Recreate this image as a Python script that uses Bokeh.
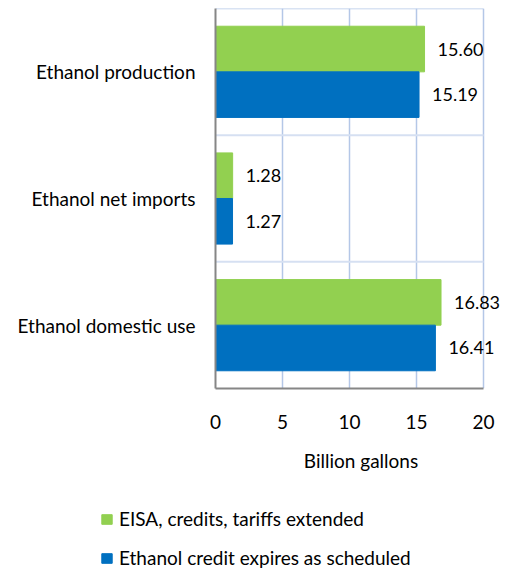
from bokeh.plotting import figure
from bokeh.models import (ColumnDataSource, FactorRange, Range1d, FixedTicker,
                          Legend, LegendItem, LabelSet)
from bokeh.core.properties import value
from bokeh.transform import dodge
from bokeh.embed import file_html
from bokeh.resources import INLINE

categories = ["Ethanol domestic use", "Ethanol net imports", "Ethanol production"]
extended = [16.83, 1.28, 15.60]
scheduled = [16.41, 1.27, 15.19]
series_names = ["EISA, credits, tariffs extended", "Ethanol credit expires as scheduled"]
x_ticks = [0, 5, 10, 15, 20]
x_title = "Billion gallons"

FONT = "Lato"
FS = "19px"
GREEN = "#92d050"
BLUE = "#0070c0"
VGRID = "#b4c7e7"
HGRID = "#d6e0f2"

src = ColumnDataSource(dict(
    cat=categories,
    ext=extended,
    sch=scheduled,
    ext_lbl=["%.2f" % v for v in extended],
    sch_lbl=["%.2f" % v for v in scheduled],
))

W = 506
LEFT = 215
# frame extends a little past 20 so that end labels are not clipped
x_max = x_ticks[-1] * (W - LEFT) / 268

p = figure(width=W, height=480, output_backend="svg", toolbar_location=None,
           y_range=FactorRange(factors=categories, range_padding=0),
           x_range=Range1d(0, x_max),
           min_border_left=LEFT, min_border_right=0, min_border_top=8,
           min_border_bottom=92)
p.outline_line_color = None

# category separators and top border, bounded to the axis extent
n = len(categories)
bounds_y = list(range(1, n + 1))
p.segment(x0=[x_ticks[0]] * n, x1=[x_ticks[-1]] * n, y0=bounds_y, y1=bounds_y,
          line_color=[HGRID] * (n - 1) + [VGRID], line_width=[2] * (n - 1) + [1.5])

r_ext = p.hbar(y=dodge("cat", 0.18, range=p.y_range), right="ext", left=0, height=0.36,
               source=src, fill_color=GREEN, line_color=GREEN)
r_sch = p.hbar(y=dodge("cat", -0.18, range=p.y_range), right="sch", left=0, height=0.36,
               source=src, fill_color=BLUE, line_color=BLUE)

for col, lab, off in (("ext", "ext_lbl", 0.18), ("sch", "sch_lbl", -0.18)):
    ls = LabelSet(x=col, y=dodge("cat", off, range=p.y_range), text=lab, source=src,
                  x_offset=13, text_baseline="middle", text_align="left",
                  text_font=value(FONT), text_font_size="18px", text_color="#000000")
    p.add_layout(ls)

# grid
p.xgrid.ticker = FixedTicker(ticks=x_ticks)
p.xgrid.grid_line_color = VGRID
p.xgrid.grid_line_width = 1.5
p.ygrid.visible = False

# axes
p.xaxis.ticker = FixedTicker(ticks=x_ticks)
p.xaxis.bounds = (x_ticks[0], x_ticks[-1])
p.xaxis.major_tick_line_color = None
p.xaxis.minor_tick_line_color = None
p.xaxis.major_label_standoff = 20
p.xaxis.major_label_text_font = FONT
p.xaxis.major_label_text_font_size = FS
p.xaxis.major_label_text_color = "#000000"
p.xaxis.axis_line_color = "#868686"
p.xaxis.axis_line_width = 2
p.xaxis.axis_label = x_title
p.xaxis.axis_label_standoff = 17
p.xaxis.axis_label_text_font = FONT
p.xaxis.axis_label_text_font_size = FS
p.xaxis.axis_label_text_font_style = "normal"
p.xaxis.axis_label_text_color = "#000000"

p.yaxis.major_tick_line_color = None
p.yaxis.minor_tick_line_color = None
p.yaxis.major_label_standoff = 14
p.yaxis.major_label_text_font = FONT
p.yaxis.major_label_text_font_size = FS
p.yaxis.major_label_text_color = "#000000"
p.yaxis.axis_line_color = "#868686"
p.yaxis.axis_line_width = 2

# legend panel (separate strip below the chart)
lg = figure(width=W, height=88, output_backend="svg", toolbar_location=None,
            x_range=Range1d(0, 1), y_range=Range1d(0, 1),
            x_axis_location=None, y_axis_location=None,
            min_border=0)
lg.outline_line_color = None
lg.xgrid.visible = False
lg.ygrid.visible = False
l_ext = lg.hbar(y="cat", right="ext", left=0, height=0.36, source=ColumnDataSource(
    dict(cat=[0], ext=[0])), fill_color=GREEN, line_color=GREEN, visible=False)
l_sch = lg.hbar(y="cat", right="sch", left=0, height=0.36, source=ColumnDataSource(
    dict(cat=[0], sch=[0])), fill_color=BLUE, line_color=BLUE, visible=False)

legend = Legend(items=[LegendItem(label=series_names[0], renderers=[l_ext]),
                       LegendItem(label=series_names[1], renderers=[l_sch])],
                orientation="vertical", location=(100, -1),
                glyph_width=13, glyph_height=12, label_standoff=6, spacing=16,
                label_height=20,
                label_text_font=FONT, label_text_font_size=FS,
                label_text_color="#000000", border_line_color=None,
                background_fill_alpha=0, padding=0, margin=0)
lg.add_layout(legend, "center")

open("out.html", "w").write(file_html([p, lg], INLINE))
